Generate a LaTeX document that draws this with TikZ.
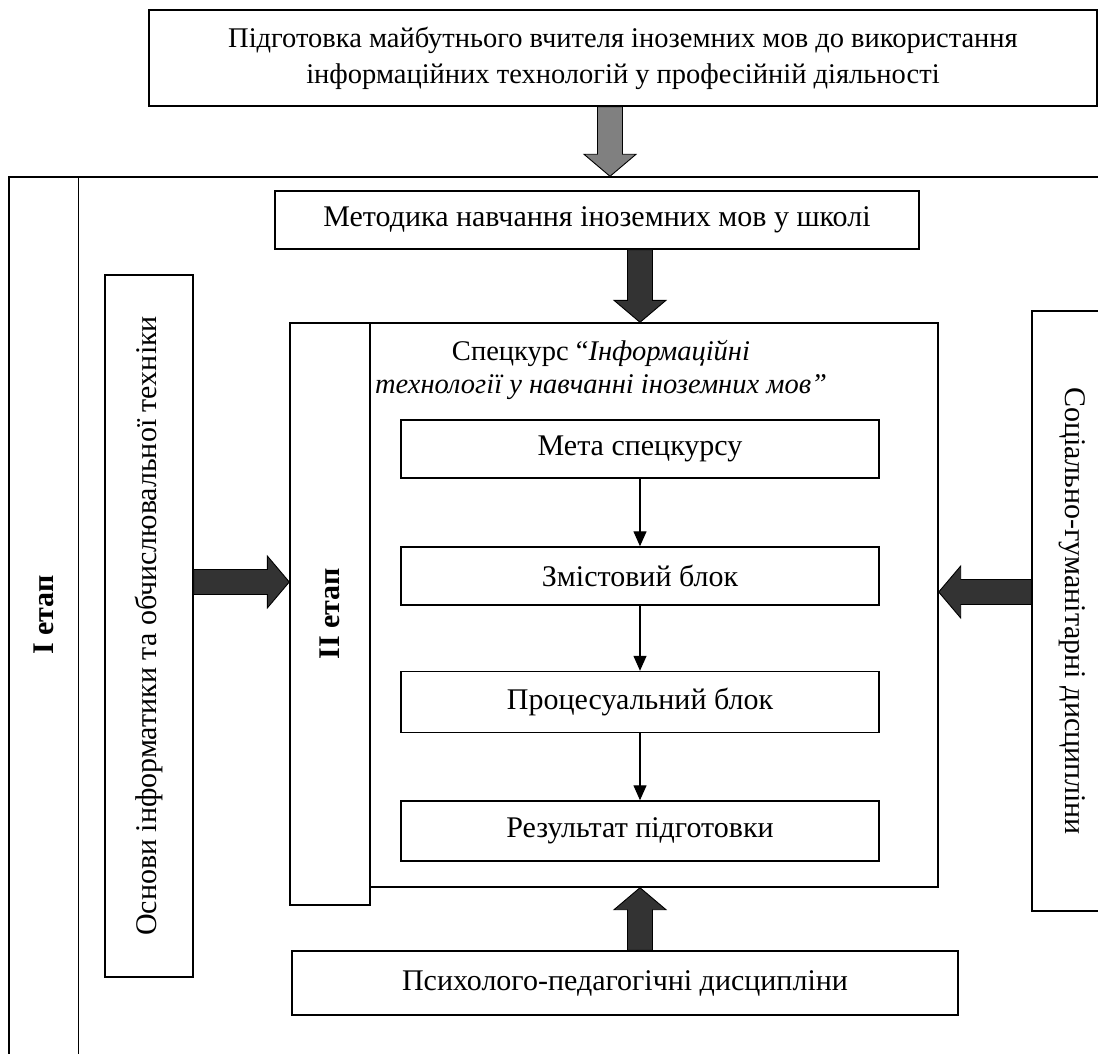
\documentclass[tikz,border=0pt]{standalone}
\usepackage{fontspec}
\setmainfont{Liberation Serif}
\usepackage{graphicx}
\usetikzlibrary{arrows.meta,calc}

\newcommand{\blockarrow}[3]{%
  \draw[block arrow,fill=#1] let \p1=(#2), \p2=(#3),
    \n1={atan2(\y2-\y1,\x2-\x1)}, \n2={veclen(\x2-\x1,\y2-\y1)} in
    [shift={(\p1)},rotate=\n1] (0,-\sw) -- (\n2-\hl,-\sw) -- (\n2-\hl,-\hw) -- (\n2,0)
    -- (\n2-\hl,\hw) -- (\n2-\hl,\sw) -- (0,\sw) -- cycle;}

\begin{document}
\begin{tikzpicture}[x=1pt,y=-1pt,
			font=\fontsize{30}{36}\selectfont,
			box/.style={draw,line width=1.4pt,inner sep=0pt,align=center},
			block arrow/.style={draw=black,line width=0.9pt},
			flow/.style={-{Triangle[length=15pt,width=13pt]},line width=1.3pt}
			]

			\def \sw {12.5}
			\def \hw {26}
			\def \hl {22}

			\useasboundingbox (0,0) rectangle (1098,1054);

			\node[box,minimum width=1121pt,minimum height=903pt] (stage one) at (569.5,628.5) {};
			\draw[line width=1.4pt] ([xshift=70pt]stage one.north west) -- ([xshift=70pt]stage one.south west);
			\node[font=\fontsize{30}{36}\selectfont\bfseries] (stage one label) at (44,615) {\rotatebox{90}{I етап}};

			\node[box,minimum width=948pt,minimum height=96pt,font=\fontsize{28.5}{36}\selectfont] (aim) at (623,58)
				{Підготовка майбутнього вчителя іноземних мов до використання\\інформаційних технологій у професійній діяльності};
			\node[box,minimum width=644pt,minimum height=58pt] (method) at (597,220) {Методика навчання іноземних мов у школі};
			\node[box,minimum width=88pt,minimum height=702pt] (basics) at (149,626)
				{\rotatebox{90}{Основи інформатики та обчислювальної техніки}};
			\node[box,minimum width=80pt,minimum height=582pt] (stage two) at (330,614) {\rotatebox{90}{\bfseries II етап}};
			\node[box,minimum width=568pt,minimum height=564pt] (course) at (654,605) {};
			\node[align=center,font=\fontsize{28.5}{33}\selectfont] (course title) at (601,370)
				{Спецкурс “\textit{Інформаційні}\\\textit{технології у навчанні іноземних мов”}};

			\node[box,minimum width=478pt,minimum height=58pt] (goal) at (640,449) {Мета спецкурсу};
			\node[box,minimum width=478pt,minimum height=58pt] (content) at (640,576) {Змістовий блок};
			\node[box,minimum width=478pt,minimum height=61pt] (process) at (640,702) {Процесуальний блок};
			\node[box,minimum width=478pt,minimum height=60pt] (result) at (640,831) {Результат підготовки};

			\node[box,minimum width=666pt,minimum height=64pt] (psych) at (625,983) {Психолого-педагогічні дисципліни};
			\node[box,minimum width=80pt,minimum height=600pt] (social) at (1072,611)
				{\rotatebox{-90}{Соціально-гуманітарні дисципліни}};

			\draw[flow] (goal) -- (content);
			\draw[flow] (content) -- (process);
			\draw[flow] (process) -- (result);

			\coordinate (aim out) at ([xshift=-13pt]aim.south);
			\coordinate (left level) at (0,582);
			\coordinate (right level) at (0,592);

			\blockarrow{black!50}{aim out}{aim out |- stage one.north}
			\blockarrow{black!80}{method.south -| goal}{course.north -| goal}
			\blockarrow{black!80}{basics.east |- left level}{stage two.west |- left level}
			\blockarrow{black!80}{social.west |- right level}{course.east |- right level}
			\blockarrow{black!80}{psych.north -| result}{course.south -| result}
		\end{tikzpicture}
\end{document}
